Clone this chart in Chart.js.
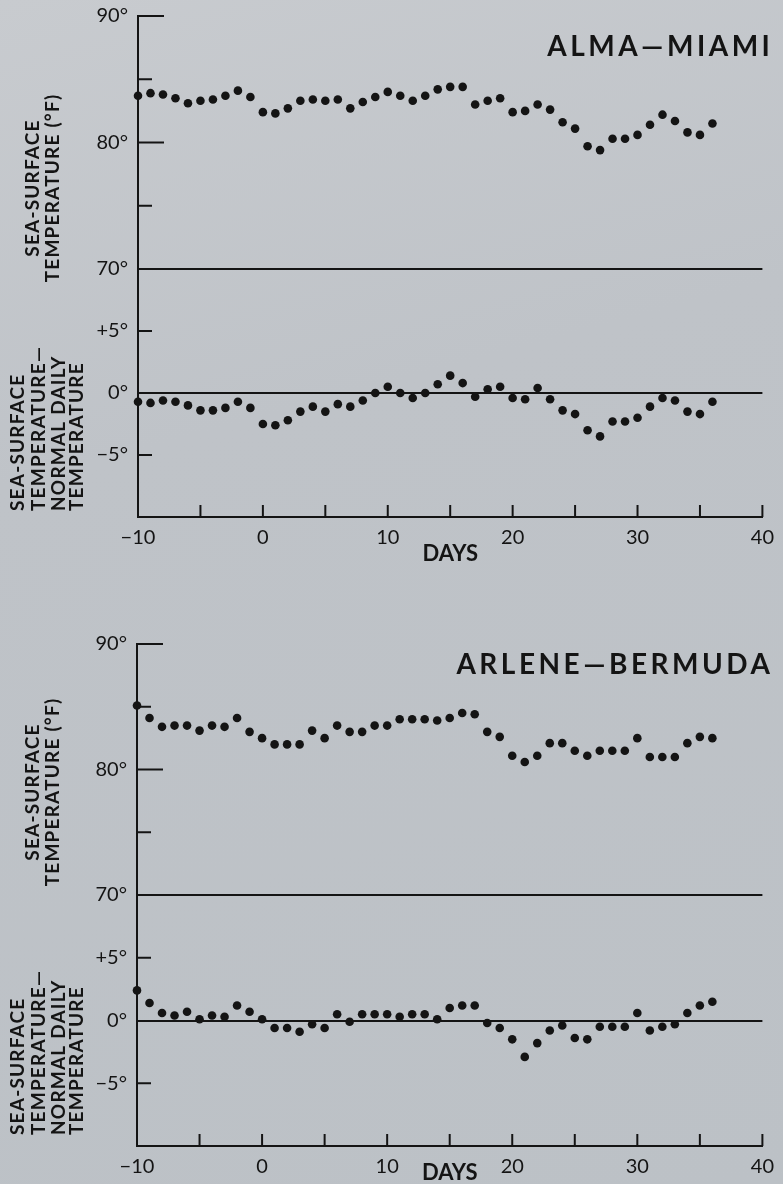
<!DOCTYPE html>
<html>
<head>
<meta charset="utf-8">
<script src="https://cdn.jsdelivr.net/npm/chart.js@4.4.1/dist/chart.umd.min.js"></script>
<style>
  html, body { margin: 0; padding: 0; }
  body {
    width: 783px;
    height: 1184px;
    overflow: hidden;
    background: linear-gradient(165deg, #c8cbcf 0%, #bfc3c8 35%, #bcc1c6 100%);
  }
  .plate { position: absolute; left: 0; }
</style>
</head>
<body>
<div class="plate" style="top:0"><canvas id="alma" width="783" height="570"></canvas></div>
<div class="plate" style="top:570px"><canvas id="arlene" width="783" height="614"></canvas></div>
<script>
// days relative to passage of the storm
const days = [-10, -9, -8, -7, -6, -5, -4, -3, -2, -1, 0, 1, 2, 3, 4, 5, 6, 7, 8, 9, 10,
  11, 12, 13, 14, 15, 16, 17, 18, 19, 20, 21, 22, 23, 24, 25, 26, 27, 28, 29, 30,
  31, 32, 33, 34, 35, 36];

// Alma - Miami: sea-surface temperature (°F) and departure from normal daily temperature
const almaTemp = [83.7, 83.9, 83.8, 83.5, 83.1, 83.3, 83.4, 83.7, 84.1, 83.6, 82.4,
  82.3, 82.7, 83.3, 83.4, 83.3, 83.4, 82.7, 83.2, 83.6, 84.0,
  83.7, 83.3, 83.7, 84.2, 84.4, 84.4, 83.0, 83.3, 83.5, 82.4,
  82.5, 83.0, 82.6, 81.6, 81.1, 79.7, 79.4, 80.3, 80.3, 80.6,
  81.4, 82.2, 81.7, 80.8, 80.6, 81.5];
const almaDiff = [-0.7, -0.8, -0.6, -0.7, -1.0, -1.4, -1.4, -1.2, -0.7, -1.2, -2.5,
  -2.6, -2.2, -1.5, -1.1, -1.5, -0.9, -1.1, -0.6, 0.0, 0.5,
  0.0, -0.4, 0.0, 0.7, 1.4, 0.8, -0.3, 0.3, 0.5, -0.4,
  -0.5, 0.4, -0.5, -1.4, -1.7, -3.0, -3.5, -2.3, -2.3, -2.0,
  -1.1, -0.4, -0.6, -1.5, -1.7, -0.7];

// Arlene - Bermuda
const arleneTemp = [85.1, 84.1, 83.4, 83.5, 83.5, 83.1, 83.5, 83.4, 84.1, 83.0, 82.5,
  82.0, 82.0, 82.0, 83.1, 82.5, 83.5, 83.0, 83.0, 83.5, 83.5,
  84.0, 84.0, 84.0, 83.9, 84.1, 84.5, 84.4, 83.0, 82.6, 81.1,
  80.6, 81.1, 82.1, 82.1, 81.5, 81.1, 81.5, 81.5, 81.5, 82.5,
  81.0, 81.0, 81.0, 82.1, 82.6, 82.5];
const arleneDiff = [2.4, 1.4, 0.6, 0.4, 0.7, 0.1, 0.4, 0.3, 1.2, 0.7, 0.1,
  -0.6, -0.6, -0.9, -0.3, -0.6, 0.5, -0.1, 0.5, 0.5, 0.5,
  0.3, 0.5, 0.5, 0.1, 1.0, 1.2, 1.2, -0.2, -0.6, -1.5,
  -2.9, -1.8, -0.8, -0.4, -1.4, -1.5, -0.5, -0.5, -0.5, 0.6,
  -0.8, -0.5, -0.3, 0.6, 1.2, 1.5];

// axis ranges and labels
const dayRange = [-10, 40];
const tempRange = [70, 90];
const diffRange = [-10, 10];
const tempLabels = { 90: '90°', 80: '80°', 70: '70°' };
const diffLabels = { 5: '+5°', 0: '0°', '-5': '−5°' };
const upperCaption = ['SEA-SURFACE', 'TEMPERATURE (°F)'];
const lowerCaption = ['SEA-SURFACE', 'TEMPERATURE—', 'NORMAL DAILY', 'TEMPERATURE'];

const ink = '#141414';
const font = 'Lato';

// inward tick lengths per scale
const tickLength = {
  x: v => (v === -10 ? 0 : 12),
  yTop: v => (v === 70 ? 0 : (v % 10 === 0 ? 26 : 14)),
  yBot: v => (Math.abs(v) === 5 ? 14 : 0)
};

const inwardTicks = {
  id: 'inwardTicks',
  afterDatasetsDraw(chart) {
    const ctx = chart.ctx;
    ctx.save();
    ctx.strokeStyle = ink;
    ctx.lineWidth = 2;
    Object.values(chart.scales).forEach(scale => {
      const lenFor = tickLength[scale.id];
      if (!lenFor) return;
      scale.ticks.forEach(tick => {
        const len = lenFor(tick.value);
        if (!len) return;
        const p = scale.getPixelForValue(tick.value);
        ctx.beginPath();
        if (scale.isHorizontal()) {
          ctx.moveTo(p, scale.top);
          ctx.lineTo(p, scale.top - len);
        } else {
          ctx.moveTo(scale.right, p);
          ctx.lineTo(scale.right + len, p);
        }
        ctx.stroke();
      });
    });
    ctx.restore();
  }
};

// station name and the rotated captions beside the axes
function plateText(fig) {
  return {
    id: 'plateText',
    afterDraw(chart) {
      const ctx = chart.ctx;
      ctx.save();
      ctx.fillStyle = ink;
      ctx.textBaseline = 'middle';

      ctx.font = 'bold 28px ' + font;
      ctx.letterSpacing = '3.5px';
      ctx.textAlign = 'right';
      ctx.fillText(fig.name, chart.chartArea.right + 11, fig.nameY);

      ctx.font = 'bold 19px ' + font;
      ctx.letterSpacing = '1.2px';
      upperCaption.forEach((line, i) => {
        ctx.save();
        ctx.translate(fig.upperX[i], fig.upperY);
        ctx.rotate(-Math.PI / 2);
        ctx.textAlign = 'center';
        ctx.fillText(line, 0, 0);
        ctx.restore();
      });
      lowerCaption.forEach((line, i) => {
        ctx.save();
        ctx.translate(fig.lowerX[i], fig.lowerStart);
        ctx.rotate(-Math.PI / 2);
        ctx.textAlign = 'left';
        ctx.fillText(line, 0, 0);
        ctx.restore();
      });
      ctx.restore();
    }
  };
}

function dots(values) {
  return values.map((v, i) => ({ x: days[i], y: v }));
}

// fixed axis width; the labels sit inside the plate so no overflow padding
function fitLeft(width) {
  return s => {
    s.width = width;
    s.paddingTop = 0;
    s.paddingBottom = 0;
  };
}

function makePlate(id, temps, diffs, fig) {
  return new Chart(document.getElementById(id), {
    type: 'scatter',
    data: {
      datasets: [
        { data: dots(temps), yAxisID: 'yTop' },
        { data: dots(diffs), yAxisID: 'yBot' }
      ]
    },
    options: {
      responsive: false,
      animation: false,
      layout: { padding: { top: fig.padTop, right: 11, left: 0, bottom: 0 } },
      elements: {
        point: { radius: 4.3, backgroundColor: ink, borderWidth: 0 }
      },
      datasets: { scatter: { clip: false } },
      plugins: { legend: { display: false }, tooltip: { enabled: false } },
      scales: {
        x: {
          type: 'linear',
          min: dayRange[0],
          max: dayRange[1],
          grid: { drawOnChartArea: false, drawTicks: false },
          border: { color: ink, width: 2 },
          ticks: {
            stepSize: 5,
            autoSkip: false,
            maxRotation: 0,
            padding: 9,
            color: ink,
            font: { family: font, size: 20 },
            callback: v => (v % 10 === 0 ? (v < 0 ? '−' + Math.abs(v) : String(v)) : '')
          },
          title: {
            display: true,
            text: 'DAYS',
            color: ink,
            font: { family: font, size: 22, weight: 'bold' },
            padding: { top: 0, bottom: fig.daysPad }
          },
          afterFit: s => { s.height = fig.xHeight; }
        },
        // the lower panel is listed first so the stack places it below
        yBot: {
          type: 'linear',
          position: 'left',
          stack: 'plate',
          stackWeight: fig.botWeight,
          min: diffRange[0],
          max: diffRange[1],
          grid: {
            drawTicks: false,
            lineWidth: 2,
            color: c => (c.tick && c.tick.value === 0 ? ink : 'rgba(0,0,0,0)')
          },
          border: { color: ink, width: 2 },
          ticks: {
            stepSize: 5,
            padding: 10,
            color: ink,
            font: { family: font, size: 20 },
            callback: v => diffLabels[v] || ''
          },
          afterFit: fitLeft(fig.axisX)
        },
        yTop: {
          type: 'linear',
          position: 'left',
          stack: 'plate',
          stackWeight: fig.topWeight,
          min: tempRange[0],
          max: tempRange[1],
          grid: {
            drawTicks: false,
            lineWidth: 2,
            color: c => (c.tick && c.tick.value === 70 ? ink : 'rgba(0,0,0,0)')
          },
          border: { color: ink, width: 2 },
          ticks: {
            stepSize: 5,
            padding: 10,
            color: ink,
            font: { family: font, size: 20 },
            callback: v => tempLabels[v] || ''
          },
          afterFit: fitLeft(fig.axisX)
        }
      }
    },
    plugins: [inwardTicks, plateText(fig)]
  });
}

makePlate('alma', almaTemp, almaDiff, {
  name: 'ALMA—MIAMI', nameY: 47,
  padTop: 16, axisX: 138, xHeight: 53, daysPad: 3,
  topWeight: 1.01, botWeight: 0.99,
  upperX: [32.5, 52.5], upperY: 188,
  lowerX: [17.5, 38.5, 58.5, 76.5], lowerStart: 511
});

makePlate('arlene', arleneTemp, arleneDiff, {
  name: 'ARLENE—BERMUDA', nameY: 95,
  padTop: 74, axisX: 137, xHeight: 38, daysPad: -2,
  topWeight: 1, botWeight: 1,
  upperX: [32.5, 52.5], upperY: 222,
  lowerX: [17.5, 38.5, 58.5, 76.5], lowerStart: 565
});
</script>
</body>
</html>
